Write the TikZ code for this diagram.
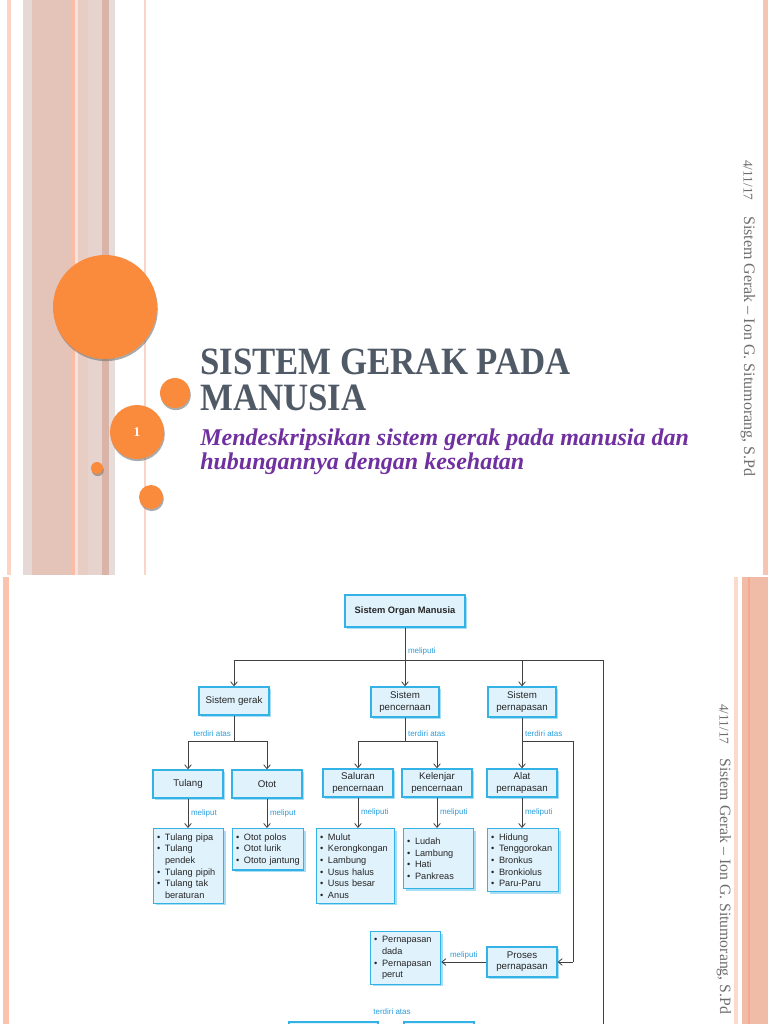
\documentclass[tikz,border=0pt]{standalone}
\usepackage{fontspec}
\setmainfont{Liberation Serif}
\newfontfamily\titlefont[FakeStretch=0.9]{Liberation Serif}
\newfontfamily\chartfont{Liberation Sans}
\usetikzlibrary{arrows.meta,shadows}
\definecolor{slidegray}{HTML}{505A66}
\definecolor{subpurple}{HTML}{7030A0}
\definecolor{dotorange}{HTML}{FA8A3C}
\definecolor{boxfill}{HTML}{E0F2FC}
\definecolor{boxline}{HTML}{33B2E6}
\definecolor{boxshade}{HTML}{A8DDF4}
\definecolor{lblblue}{HTML}{2A9FE0}
\definecolor{linegray}{HTML}{404040}
\definecolor{footgray}{HTML}{6E6E6E}
\newcommand{\lbul}{\makebox[6pt][l]{\textbullet}}
\newcommand{\lcont}{\hspace*{6pt}}
\hyphenpenalty=10000
\exhyphenpenalty=10000

\begin{document}
\begin{tikzpicture}[x=0.75pt,y=-0.75pt,
  box/.style={draw=boxline,line width=1pt,fill=boxfill,text=black!85,font=\chartfont\fontsize{7.3}{8.3}\selectfont,align=center,inner sep=1pt,minimum width=52.5pt,minimum height=21pt,drop shadow={shadow xshift=1.5pt,shadow yshift=-1.5pt,fill=boxshade,opacity=1}},
  listbox/.style={box,anchor=north west,align=left,minimum width=0pt,minimum height=0pt,inner xsep=2.5pt,inner ysep=3.5pt,font=\chartfont\fontsize{6.9}{8.8}\selectfont},
  lbl/.style={font=\chartfont\fontsize{6}{7}\selectfont,text=lblblue,inner sep=2pt},
  conn/.style={draw=linegray,line width=0.6pt},
  conarr/.style={conn,-{Straight Barb[length=3pt,width=5pt]}},
  dot/.style={circle,fill=dotorange,inner sep=0pt,drop shadow={shadow xshift=0.6pt,shadow yshift=-1.6pt,fill=black!55,opacity=0.6}},
  foot/.style={rotate=-90,anchor=west,text=footgray,inner sep=0pt}]
\useasboundingbox (0,0) rectangle (768,1024);
\fill[white] (0,0) rectangle (768,1024);
% slide 1: stripes
\foreach \xa/\xb/\hx in {7/11/FDD3C5,23/32/E6D9D5,32/72/E4C4B9,72/75/FBBCA6,75/78/F6E2DC,78/88/E8CDC5,88/102/E7D3CD,102/109/DAB4A8,109/115/E6DCD9,144/146/FBD4C8,763/768/F6C4B2}{
  \definecolor{stp}{HTML}{\hx}
  \fill[stp] (\xa,0) rectangle (\xb,575);
}
% slide 1: circles
\foreach \n/\cx/\cy/\d in {big/105/307/104,sm/175/393/30,tiny/97/468/12,low/151/497/24}
  \node[dot,minimum size=\d*0.75pt] (c\n) at (\cx,\cy) {};
\node[dot,minimum size=40.5pt,text=white,font=\bfseries\fontsize{10}{10}\selectfont] (cone) at (137,432) {1};
\node[anchor=north west,inner sep=0pt,align=left,text=slidegray,font=\titlefont\bfseries\fontsize{29}{27}\selectfont] (title) at (200,349) {SISTEM GERAK PADA\\MANUSIA};
\node[anchor=north west,inner sep=0pt,align=left,text=subpurple,font=\bfseries\itshape\fontsize{18}{18}\selectfont] (subtitle) at (200,429) {Mendeskripsikan sistem gerak pada manusia dan\\hubungannya dengan kesehatan};
\node[foot,font=\fontsize{10}{10}\selectfont] (date1) at (748,160) {4/11/17};
\node[foot,font=\fontsize{12}{12}\selectfont] (author1) at (748,216) {Sistem Gerak -- Ion G.\ Situmorang, S.Pd};
% slide 2: stripes
\foreach \xa/\xb/\hx in {3/9/FBC3AE,734/738/FCD9CD,742/768/F0BBA7,748/749.5/F4A98C}{
  \definecolor{stp}{HTML}{\hx}
  \fill[stp] (\xa,577) rectangle (\xb,1024);
}
\node[foot,font=\fontsize{10}{10}\selectfont] (date2) at (724,704) {4/11/17};
\node[foot,font=\fontsize{11.8}{12}\selectfont] (author2) at (724,758) {Sistem Gerak -- Ion G.\ Situmorang, S.Pd};
% slide 2: organ chart
\node[box,font=\chartfont\bfseries\fontsize{7}{8}\selectfont,minimum width=90pt,minimum height=24pt] (organ) at (405,611) {Sistem Organ Manusia};
\node[box] (gerak) at (234,701) {Sistem gerak};
\node[box,minimum width=51pt,minimum height=22.5pt] (cerna) at (405,702) {Sistem\\pencernaan};
\node[box,minimum width=51pt,minimum height=22.5pt] (napas) at (522,702) {Sistem\\pernapasan};
\node[box] (tulang) at (188,784) {Tulang};
\node[box] (otot) at (267,784) {Otot};
\node[box] (saluran) at (358,783) {Saluran\\pencernaan};
\node[box] (kelenjar) at (437,783) {Kelenjar\\pencernaan};
\node[box] (alat) at (522,783) {Alat\\pernapasan};
\node[listbox,text width=47.5pt] (ltulang) at (153,828) {\lbul Tulang pipa\\ \lbul Tulang\\ \lcont pendek\\ \lbul Tulang pipih\\ \lbul Tulang tak\\ \lcont beraturan};
\node[listbox,text width=48.2pt] (lotot) at (232,828) {\lbul Otot polos\\ \lbul Otot lurik\\ \lbul Ototo jantung};
\node[listbox,text width=53.5pt] (lsaluran) at (316,828) {\lbul Mulut\\ \lbul Kerongkongan\\ \lbul Lambung\\ \lbul Usus halus\\ \lbul Usus besar\\ \lbul Anus};
\node[listbox,text width=47.5pt,minimum height=45pt] (lkelenjar) at (403,828) {\lbul Ludah\\ \lbul Lambung\\ \lbul Hati\\ \lbul Pankreas};
\node[listbox,text width=48.2pt] (lalat) at (487,828) {\lbul Hidung\\ \lbul Tenggorokan\\ \lbul Bronkus\\ \lbul Bronkiolus\\ \lbul Paru-Paru};
\node[listbox,text width=47.5pt] (lproses) at (370,931) {\lbul Pernapasan\\ \lcont dada\\ \lbul Pernapasan\\ \lcont perut};
\node[box,minimum height=22.5pt] (proses) at (522,962) {Proses\\pernapasan};
\node[lbl] (tbot) at (392,1012) {terdiri atas};
\begin{scope}
\clip (0,577) rectangle (768,1024);
\node[box,minimum width=66.75pt] (lowA) at (333.5,1036) {};
\node[box] (lowB) at (439,1036) {};
\end{scope}
% connectors
\coordinate (busL) at (234,660);
\coordinate (busR) at (603,660);
\coordinate (busEnd) at (603,1024);
\coordinate (gJ) at (234,741);
\coordinate (cJ) at (405,741);
\coordinate (nJ) at (522,741);
\coordinate (nR) at (573,741);
\draw[conn] (organ) -- (organ |- busL) node[pos=.75,right,lbl] {meliputi};
\draw[conn] (busL) -- (busR) -- (busEnd);
\draw[conarr] (busL) -- (gerak);
\draw[conarr] (organ |- busL) -- (cerna);
\draw[conarr] (napas |- busL) -- (napas);
\draw[conn] (gerak) -- (gJ) node[pos=.7,left,lbl] {terdiri atas};
\draw[conn] (tulang |- gJ) -- (otot |- gJ);
\draw[conarr] (tulang |- gJ) -- (tulang);
\draw[conarr] (otot |- gJ) -- (otot);
\draw[conn] (cerna) -- (cJ) node[pos=.7,right,lbl] {terdiri atas};
\draw[conn] (saluran |- cJ) -- (kelenjar |- cJ);
\draw[conarr] (saluran |- cJ) -- (saluran);
\draw[conarr] (kelenjar |- cJ) -- (kelenjar);
\draw[conn] (napas) -- (nJ) node[pos=.7,right,lbl] {terdiri atas};
\draw[conarr] (nJ) -- (alat);
\draw[conn] (nJ) -- (nR) -- (nR |- proses);
\draw[conarr] (nR |- proses) -- (proses);
\draw[conarr] (tulang) -- (tulang |- ltulang.north) node[midway,right,lbl] {meliput};
\draw[conarr] (otot) -- (otot |- lotot.north) node[midway,right,lbl] {meliput};
\draw[conarr] (saluran) -- (saluran |- lsaluran.north) node[midway,right,lbl] {meliputi};
\draw[conarr] (kelenjar) -- (kelenjar |- lkelenjar.north) node[midway,right,lbl] {meliputi};
\draw[conarr] (alat) -- (alat |- lalat.north) node[midway,right,lbl] {meliputi};
\draw[conarr] (proses.west) -- (proses.west -| lproses.east) node[midway,above,lbl] {meliputi};
\end{tikzpicture}
\end{document}
